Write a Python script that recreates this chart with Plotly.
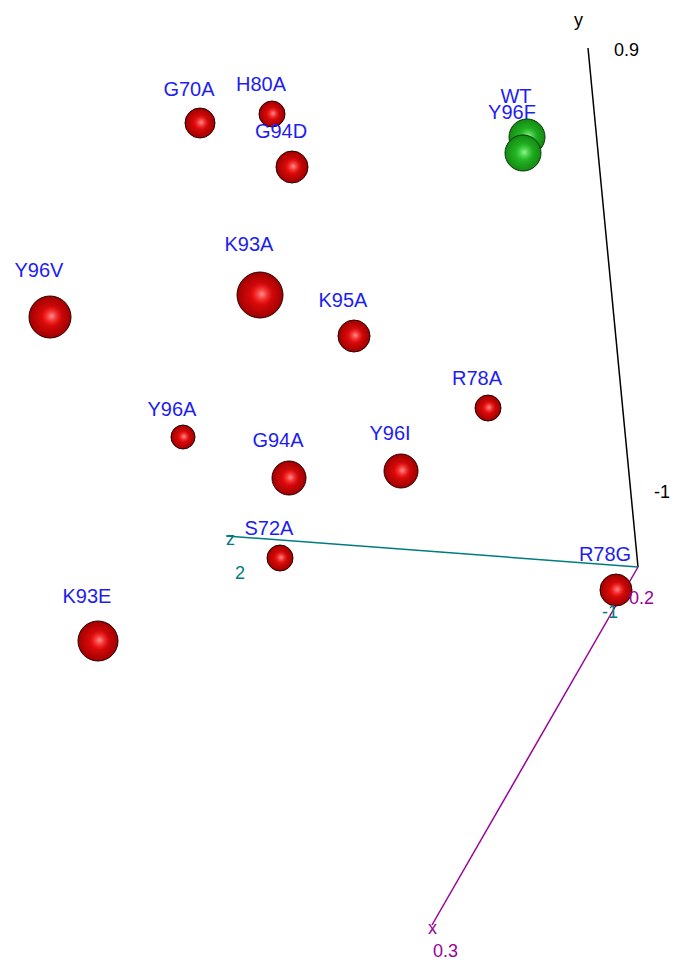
import plotly.graph_objects as go

# projected positions of each mutant (screen-space projection of the 3D view)
names = ["G70A", "H80A", "G94D", "WT", "Y96F", "K93A", "Y96V", "K95A", "R78A",
         "Y96A", "G94A", "Y96I", "S72A", "R78G", "K93E"]
px = [200, 272, 292, 527, 523, 260, 50, 354, 488, 183, 289, 401, 280, 616, 98]
py = [123, 114, 167, 137, 153, 295, 317, 336, 408, 437, 478, 471, 558, 590, 641]
sizes = [30, 26, 32, 36, 36, 46, 42, 32, 26, 24, 34, 34, 26, 32, 40]
group = ["mut", "mut", "mut", "wt", "wt", "mut", "mut", "mut", "mut",
         "mut", "mut", "mut", "mut", "mut", "mut"]

# axis frame (projected)
origin = (638, 567)
y_end = (588, 48)
z_end = (226, 536)
x_end = (432, 925)

fig = go.Figure()

# axis lines
fig.add_trace(go.Scatter(x=[origin[0], y_end[0]], y=[origin[1], y_end[1]], mode="lines",
                         line=dict(color="black", width=1.5), hoverinfo="skip"))
fig.add_trace(go.Scatter(x=[origin[0], z_end[0]], y=[origin[1], z_end[1]], mode="lines",
                         line=dict(color="#007b80", width=1.5), hoverinfo="skip"))
fig.add_trace(go.Scatter(x=[origin[0], x_end[0]], y=[origin[1], x_end[1]], mode="lines",
                         line=dict(color="#990099", width=1.5), hoverinfo="skip"))

def add_points(idx, base, light, edge, hl0, hl1):
    for i in idx:
        fig.add_trace(go.Scatter(
            x=[px[i]], y=[py[i]], mode="markers",
            marker=dict(size=sizes[i], color=base,
                        gradient=dict(type="radial", color=light),
                        line=dict(color=edge, width=1), opacity=1),
            hoverinfo="skip"))
        fig.add_trace(go.Scatter(
            x=[px[i] + sizes[i] * 0.04], y=[py[i] - sizes[i] * 0.02], mode="markers",
            marker=dict(size=sizes[i] * 0.5, color=hl0,
                        gradient=dict(type="radial", color=hl1),
                        line=dict(width=0)),
            hoverinfo="skip"))

for i, g in enumerate(group):
    if g == "wt":
        add_points([i], "#138a13", "#30d030", "#063806",
                   "rgba(60,220,60,0)", "rgba(190,255,190,0.75)")
    else:
        add_points([i], "#a00000", "#ff1010", "#2a0000",
                   "rgba(255,40,40,0)", "rgba(255,180,180,0.8)")

# labels
fig.add_trace(go.Scatter(
    x=[px[i] - 11 for i in range(len(px))],
    y=[py[i] - sizes[i] * 1.07 for i in range(len(py))],
    mode="text", text=names, textposition="middle center",
    textfont=dict(family="Liberation Sans, Arial", size=20, color="#1e1ef0"),
    hoverinfo="skip"))

# axis annotations
ann = [
    ("y", 578, 20, "black"), ("0.9", 626, 50, "black"), ("-1", 662, 492, "black"),
    ("z", 230, 539, "#007b80"), ("2", 240, 573, "#007b80"), ("-1", 610, 612, "#007b80"),
    ("x", 432, 928, "#990099"), ("0.3", 445, 951, "#990099"), ("0.2", 641, 598, "#990099"),
]
for t, x, y, c in ann:
    fig.add_annotation(x=x, y=y, text=t, showarrow=False, xref="x", yref="y",
                       font=dict(family="Liberation Sans, Arial", size=18, color=c))

fig.update_layout(
    width=673, height=960, margin=dict(l=0, r=0, t=0, b=0),
    paper_bgcolor="white", plot_bgcolor="white", showlegend=False,
    xaxis=dict(range=[0, 673], visible=False),
    yaxis=dict(range=[960, 0], visible=False),
)
fig.write_html("out.html")
